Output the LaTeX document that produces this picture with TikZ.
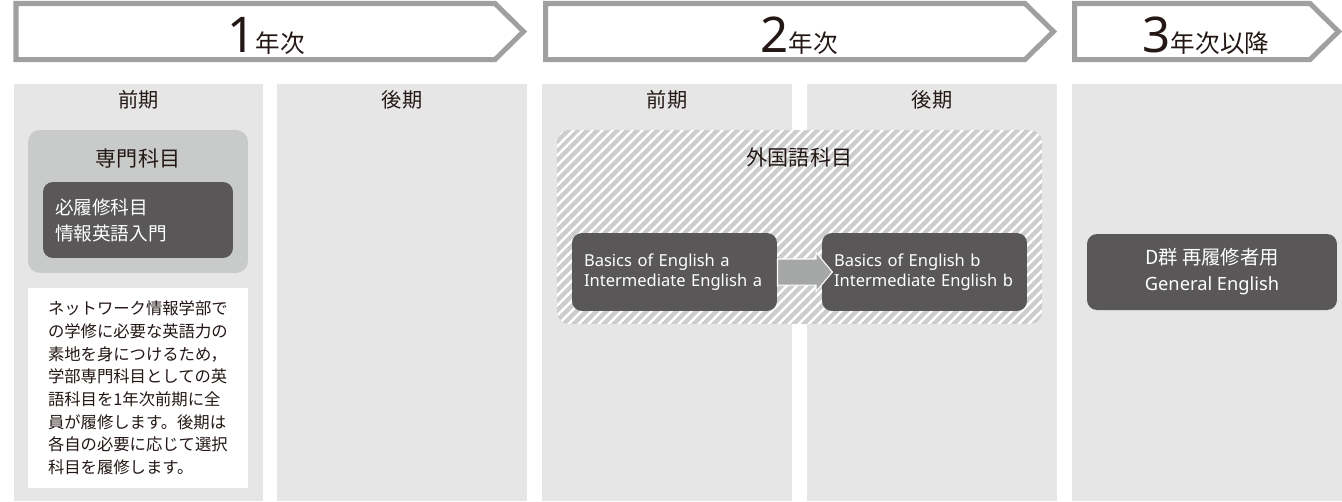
\documentclass[tikz,border=0pt]{standalone}
\usepackage{fontspec}
\setmainfont{Noto Sans CJK JP}
\newfontfamily\enfont{Noto Sans}
\usetikzlibrary{positioning, calc, shapes.arrows, patterns.meta}
\definecolor{bannergray}{HTML}{A0A0A0}
\definecolor{colgray}{HTML}{E6E6E6}
\definecolor{midgray}{HTML}{C9CACA}
\definecolor{darkbox}{HTML}{595757}
\definecolor{hatchgray}{HTML}{CCCDCD}
\definecolor{inkblack}{HTML}{231815}
\definecolor{arrowgray}{HTML}{A5A7A6}

\begin{document}
\begin{tikzpicture}[
    x=0.02cm, y=-0.02cm,
    banner/.style={draw=bannergray, line width=2.85pt, fill=white, line join=miter},
    bannertext/.style={anchor=base, text=inkblack, inner sep=0pt},
    column/.style={fill=colgray},
    head/.style={text=inkblack, font=\fontsize{11.5}{13}\selectfont},
    group/.style={rectangle, rounded corners=0.24cm, fill=midgray, inner sep=0pt},
    hatch/.style={rectangle, rounded corners=0.24cm, preaction={fill=hatchgray},
        pattern={Lines[angle=45, distance=0.14cm, line width=0.05cm]}, pattern color=white, inner sep=0pt},
    grouptitle/.style={text=inkblack, font=\fontsize{12}{14}\selectfont},
    course/.style={rectangle, rounded corners=0.2cm, fill=darkbox, text=white, inner sep=0pt},
    english/.style={course, minimum width=4.1cm, minimum height=1.56cm, inner xsep=0.24cm, text width=3.62cm,
        align=left, font=\enfont\fontsize{9.4}{11.4}\selectfont},
    note/.style={rectangle, fill=white, text=inkblack, align=left, font=\fontsize{9.3}{12.9}\selectfont},
    stepArrow/.style={single arrow, fill=arrowgray, draw=white, line width=0.6pt, inner sep=0pt,
        text height=0.5cm, text depth=0pt, minimum height=1.1cm, single arrow head extend=0.13cm,
        single arrow tip angle=100}
]
    \useasboundingbox (0,0) rectangle (1342,501);

    % Year banners
    \draw[banner] (16,3.5) -- (495,3.5) -- (523.5,31.5) -- (495,59.5) -- (16,59.5) -- cycle;
    \draw[banner] (545.5,3.5) -- (1025,3.5) -- (1053.5,31.5) -- (1025,59.5) -- (545.5,59.5) -- cycle;
    \draw[banner] (1074.5,3.5) -- (1310,3.5) -- (1338.5,31.5) -- (1310,59.5) -- (1074.5,59.5) -- cycle;
    \node[bannertext] (year1) at (266,52) {{\enfont\fontsize{28}{28}\selectfont 1}{\fontsize{14}{14}\selectfont 年次}};
    \node[bannertext] (year2) at (799,52) {{\enfont\fontsize{28}{28}\selectfont 2}{\fontsize{14}{14}\selectfont 年次}};
    \node[bannertext] (year3) at (1206,52) {{\enfont\fontsize{28}{28}\selectfont 3}{\fontsize{14}{14}\selectfont 年次以降}};

    % Semester columns
    \fill[column] (14,84) rectangle (263,501);
    \fill[column] (277,84) rectangle (527,501);
    \fill[column] (542,84) rectangle (792,501);
    \fill[column] (807,84) rectangle (1057,501);
    \fill[column] (1072,84) rectangle (1342,501);
    \node[head] (sem1) at (138.5,100) {前期};
    \node[head] (sem2) at (402,100) {後期};
    \node[head] (sem3) at (667,100) {前期};
    \node[head] (sem4) at (932,100) {後期};

    % First year: major subjects
    \node[group, minimum width=4.4cm, minimum height=2.86cm] (major) at (138,201.5) {};
    \node[grouptitle] (majortitle) at (138,159) {専門科目};
    \node[course, minimum width=3.8cm, minimum height=1.52cm, inner xsep=0.24cm, text width=3.32cm,
        align=left, font=\fontsize{10.6}{14.8}\selectfont] (required) at (138,220) {必履修科目\\情報英語入門};
    \node[note, minimum width=4.4cm, minimum height=4cm, inner xsep=0.4cm, text width=3.6cm] (memo) at (138,388)
        {ネットワーク情報学部で\\の学修に必要な英語力の\\素地を身につけるため，\\学部専門科目としての英\\語科目を1年次前期に全\\員が履修します。後期は\\各自の必要に応じて選択\\科目を履修します。};

    % Second year: foreign language subjects
    \node[hatch, minimum width=9.7cm, minimum height=3.88cm] (foreign) at (799.5,227) {};
    \node[grouptitle] (foreigntitle) at (799.5,157) {外国語科目};
    \node[english] (engA) at (674.5,272) {Basics of English a\\Intermediate English a};
    \node[english] (engB) at (924.5,272) {Basics of English b\\Intermediate English b};
    \node[stepArrow] (advance) at ($(engA.east)!0.5!(engB.west)$) {};

    % Third year and later
    \node[course, minimum width=5cm, minimum height=1.52cm, align=center,
        font=\fontsize{11}{14.8}\selectfont] (retake) at (1212,272) {D群 再履修者用\\{\enfont\fontsize{10.4}{12}\selectfont General English}};
\end{tikzpicture}
\end{document}
